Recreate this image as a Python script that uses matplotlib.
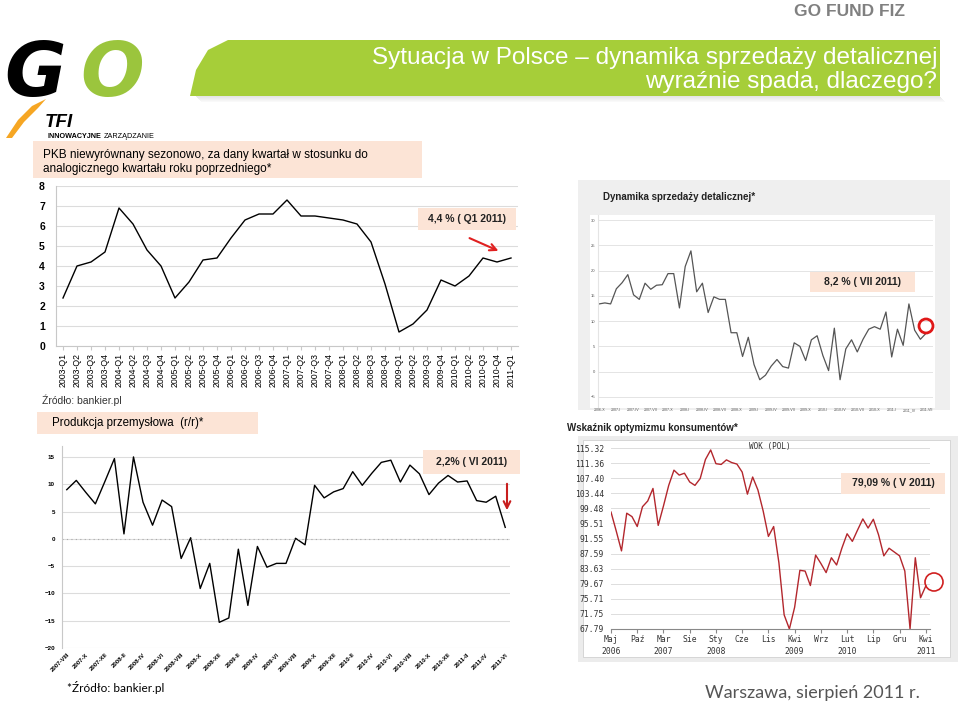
import numpy as np
import matplotlib.pyplot as plt
from matplotlib.patches import Rectangle, Polygon, Circle, FancyArrowPatch

plt.rcParams['font.family'] = ['Liberation Sans', 'DejaVu Sans']

W, H = 960, 704

# PKB r/r, quarterly
gdp_labels = [f'{y}-Q{q}' for y in range(2003, 2012) for q in range(1, 5)][:33]
gdp = [2.4, 4.0, 4.2, 4.7, 6.9, 6.1, 4.8, 4.0, 2.4, 3.2, 4.3, 4.4,
       5.4, 6.3, 6.6, 6.6, 7.3, 6.5, 6.5, 6.4, 6.3, 6.1, 5.2, 3.1,
       0.7, 1.1, 1.8, 3.3, 3.0, 3.5, 4.4, 4.2, 4.4]

# sprzedaz detaliczna, monthly 2006-X .. 2011-VII
retail_labels = ['2006-X', '2007-I', '2007-IV', '2007-VII', '2007-X', '2008-I',
                 '2008-IV', '2008-VII', '2008-X', '2009-I', '2009-IV', '2009-VII',
                 '2009-X', '2010-I', '2010-IV', '2010-VII', '2010-X', '2011-I',
                 '2011_IV', '2011-VII']
retail = [13.4, 13.6, 13.4, 16.4, 17.6, 19.2, 15.2, 14.3, 17.5, 16.3, 17.1, 17.2,
          19.4, 19.4, 12.6, 20.8, 23.9, 15.8, 17.5, 11.7, 14.8, 14.3, 14.3, 7.7,
          7.7, 3.0, 6.8, 1.4, -1.6, -0.7, 1.1, 2.4, 1.0, 0.7, 5.7, 5.0,
          2.2, 6.3, 7.1, 3.2, 0.2, 8.6, -1.6, 4.5, 6.3, 3.9, 6.4, 8.4,
          8.9, 8.4, 11.8, 2.9, 8.4, 5.2, 13.4, 8.2, 6.4, 7.6]

# produkcja przemyslowa, monthly 2007-VIII .. 2011-VI
prod_labels = ['2007-VIII', '2007-X', '2007-XII', '2008-II', '2008-IV', '2008-VI',
               '2008-VIII', '2008-X', '2008-XII', '2009-II', '2009-IV', '2009-VI',
               '2009-VIII', '2009-X', '2009-XII', '2010-II', '2010-IV', '2010-VI',
               '2010-VIII', '2010-X', '2010-XII', '2011-II', '2011-IV', '2011-VI']
prod = [9.0, 10.7, 8.5, 6.4, 10.5, 14.7, 0.9, 15.0, 6.7, 2.5, 7.1, 5.9,
        -3.6, 0.2, -9.1, -4.5, -15.3, -14.5, -1.9, -12.2, -1.4, -5.2, -4.5, -4.5,
        0.1, -1.1, 9.8, 7.5, 8.6, 9.2, 12.3, 9.8, 12.0, 14.0, 14.4, 10.4,
        13.5, 11.9, 8.1, 10.2, 11.6, 10.4, 10.6, 7.0, 6.7, 7.8, 2.1]

# WOK, monthly 2006-V .. 2011-V
wok_labels = ['Maj\n2006', 'Paź', 'Mar\n2007', 'Sie', 'Sty\n2008', 'Cze', 'Lis',
              'Kwi\n2009', 'Wrz', 'Lut\n2010', 'Lip', 'Gru', 'Kwi\n2011']
wok_yticks = [67.79, 71.75, 75.71, 79.67, 83.63, 87.59, 91.55, 95.51, 99.48,
              103.44, 107.40, 111.36, 115.32]
wok = [98.5, 93.5, 88.3, 98.2, 97.3, 94.7, 99.9, 101.4, 104.7, 95.0, 100.1, 105.5,
       109.5, 108.2, 108.7, 106.4, 105.5, 107.3, 112.3, 114.8, 111.2, 111.0, 112.2, 111.5,
       111.1, 109.0, 103.2, 107.7, 104.3, 98.8, 92.1, 94.7, 85.2, 71.5, 67.8, 73.5,
       83.2, 83.0, 79.2, 87.2, 85.0, 82.6, 86.5, 84.6, 89.0, 92.8, 90.8, 93.8,
       96.7, 94.3, 96.6, 92.5, 87.0, 89.0, 88.0, 87.0, 83.0, 67.8, 86.5, 76.0, 79.09]

peach = '#fce4d6'


def box(x0, y0, x1, y1):
    return [x0 / W, 1 - y1 / H, (x1 - x0) / W, (y1 - y0) / H]


fig = plt.figure(figsize=(9.6, 7.04), dpi=100)

bg = fig.add_axes([0, 0, 1, 1], zorder=-5)
bg.set_xlim(0, W); bg.set_ylim(H, 0); bg.axis('off')
fg = fig.add_axes([0, 0, 1, 1], zorder=5)
fg.set_xlim(0, W); fg.set_ylim(H, 0); fg.axis('off'); fg.patch.set_alpha(0)

# header
bg.text(905, 12, 'GO FUND FIZ', ha='right', va='center', fontsize=12.5,
        fontweight='bold', color='#808080')
for i in range(6):
    bg.add_patch(Rectangle((196 + i, 96 + i), 744, 1.2, color='#999999', alpha=0.25 - i * 0.04, lw=0))
banner = [(940, 40), (228, 40), (208, 50), (196, 70), (190, 96), (940, 96)]
bg.add_patch(Polygon(banner, closed=True, color='#a6ce39', lw=0))
bg.text(937, 58, 'Sytuacja w Polsce – dynamika sprzedaży detalicznej', ha='right', va='center',
        fontsize=17.5, color='white')
bg.text(937, 82, 'wyraźnie spada, dlaczego?', ha='right', va='center', fontsize=17.5, color='white')

# logo
bg.text(4, 96, 'G', fontsize=54, fontweight='heavy', style='italic', color='black',
        family='DejaVu Sans', va='baseline')
bg.text(80, 96, 'O', fontsize=54, fontweight='heavy', style='italic', color='#9bc53d',
        family='DejaVu Sans', va='baseline')
bg.add_patch(Polygon([(6, 138), (18, 120), (32, 106), (46, 99), (38, 108), (24, 122), (12, 138)],
                     closed=True, color='#f6a623', lw=0))
bg.text(45, 127, 'TFI', fontsize=13.5, fontweight='bold', style='italic', va='baseline')
bg.text(48, 136, 'INNOWACYJNE', fontsize=5.2, fontweight='bold', va='center')
bg.text(104, 136, 'ZARZĄDZANIE', fontsize=5.2, va='center')

# PKB panel
bg.add_patch(Rectangle((33, 141), 389, 37, color=peach, lw=0))
bg.text(43, 155, 'PKB niewyrównany sezonowo, za dany kwartał w stosunku do', fontsize=8.5, va='center')
bg.text(43, 169, 'analogicznego kwartału roku poprzedniego*', fontsize=8.5, va='center')
bg.text(42, 400, 'Źródło: bankier.pl', fontsize=7.5, va='center', color='#333333')

ax1 = fig.add_axes(box(56, 186, 518, 346))
ax1.plot(range(len(gdp)), gdp, color='black', lw=1)
ax1.set_xlim(-0.5, len(gdp) - 0.5)
ax1.set_ylim(0, 8)
ax1.set_yticks(range(9))
ax1.set_xticks(range(len(gdp)))
ax1.set_xticklabels(gdp_labels, rotation=90, fontsize=6.3)
ax1.grid(axis='y', color='#dcdcdc', lw=0.8)
ax1.set_axisbelow(True)
for s in ['top', 'right']:
    ax1.spines[s].set_visible(False)
for s in ['left', 'bottom']:
    ax1.spines[s].set_color('#c8c8c8')
ax1.tick_params(axis='y', length=0, labelsize=7.5, pad=8)
ax1.tick_params(axis='x', length=3, color='#c8c8c8', pad=2)
for t in ax1.get_yticklabels():
    t.set_fontweight('bold')

# retail panel
bg.add_patch(Rectangle((578, 180), 372, 230, color='#efefef', lw=0))
bg.add_patch(Rectangle((590, 215), 345, 193, color='white', lw=0))
bg.text(603, 197, 'Dynamika sprzedaży detalicznej*', fontsize=7, fontweight='bold', va='center',
        color='#222222')
ax2 = fig.add_axes(box(598, 215, 933, 407))
ax2.patch.set_alpha(0)
ax2.plot(range(len(retail)), retail, color='#555555', lw=0.9)
ax2.set_xlim(-0.2, 58.2)
ax2.set_ylim(-7, 31)
ax2.set_yticks(range(-5, 31, 5))
ax2.set_xticks(range(0, len(retail), 3))
ax2.set_xticklabels(retail_labels, fontsize=2.6, color='#555555')
ax2.grid(axis='y', color='#e4e4e4', lw=0.7)
ax2.set_axisbelow(True)
for s in ['top', 'right', 'bottom']:
    ax2.spines[s].set_visible(False)
ax2.spines['left'].set_color('#e4e4e4')
ax2.tick_params(axis='y', length=0, labelsize=3, pad=2, labelcolor='#555555')
ax2.tick_params(axis='x', length=0, pad=1)

# production panel
bg.add_patch(Rectangle((37, 412), 221, 22, color=peach, lw=0))
bg.text(52, 423, 'Produkcja przemysłowa  (r/r)*', fontsize=8.3, va='center')
ax3 = fig.add_axes(box(62, 446, 510, 648))
ax3.plot(range(len(prod)), prod, color='black', lw=1)
ax3.axhline(0, color='#aaaaaa', lw=0.8, ls=(0, (1, 3)))
ax3.set_xlim(-0.5, len(prod) - 0.5)
ax3.set_ylim(-20, 17)
ax3.set_yticks(range(-20, 16, 5))
ax3.set_xticks(range(0, len(prod), 2))
ax3.set_xticklabels(prod_labels, rotation=45, ha='right', rotation_mode='anchor', fontsize=4.3)
for t in ax3.get_xticklabels() + ax3.get_yticklabels():
    t.set_fontweight('bold')
ax3.grid(axis='y', color='#dcdcdc', lw=0.8)
ax3.set_axisbelow(True)
for s in ['top', 'right', 'bottom']:
    ax3.spines[s].set_visible(False)
ax3.spines['left'].set_color('#c8c8c8')
ax3.tick_params(axis='y', length=0, labelsize=4.5, pad=5)
ax3.tick_params(axis='x', length=0, pad=3)

# WOK panel
bg.add_patch(Rectangle((578, 436), 380, 226, color='#ececec', lw=0))
bg.add_patch(Rectangle((583, 440), 367, 217, facecolor='white', edgecolor='#d0d0d0', lw=0.6))
bg.text(567, 428, 'Wskaźnik optymizmu konsumentów*', fontsize=7, fontweight='bold', va='center',
        color='#222222')
ax4 = fig.add_axes(box(611, 448, 930, 629))
ax4.patch.set_alpha(0)
ax4.plot(range(len(wok)), wok, color='#b3272d', lw=1)
ax4.set_xlim(0, 60.8)
ax4.set_ylim(wok_yticks[0], wok_yticks[-1])
ax4.set_yticks(wok_yticks)
ax4.set_yticklabels([f'{v:.2f}' for v in wok_yticks], fontsize=5.8, family='DejaVu Sans Mono',
                    color='#333333')
ax4.set_xticks(range(0, 61, 5))
ax4.set_xticklabels(wok_labels, fontsize=5.8, family='DejaVu Sans Mono', color='#333333',
                    linespacing=1.5)
ax4.grid(axis='y', color='#dddddd', lw=0.7)
ax4.set_axisbelow(True)
for s in ['top', 'right', 'left']:
    ax4.spines[s].set_visible(False)
ax4.spines['bottom'].set_color('#888888')
ax4.tick_params(axis='y', length=0, pad=5)
ax4.tick_params(axis='x', length=3, color='#888888', pad=1)
fg.text(770, 447, 'WOK (POL)', fontsize=5.5, family='DejaVu Sans Mono', ha='center', va='center',
        color='#333333')

# annotations
notes = [((418, 208, 98, 22), '4,4 % ( Q1 2011)'),
         ((810, 272, 105, 20), '8,2 % ( VII 2011)'),
         ((423, 450, 97, 24), '2,2% ( VI 2011)'),
         ((841, 473, 104, 21), '79,09 % ( V 2011)')]
for (x, y, w, h), txt in notes:
    fg.add_patch(Rectangle((x, y), w, h, color=peach, lw=0))
    fg.text(x + w / 2, y + h / 2, txt, ha='center', va='center', fontsize=7.5, fontweight='bold',
            color='#222222')
fg.add_patch(FancyArrowPatch((467, 237), (501, 252), arrowstyle='->', color='#e02020', lw=1.5,
                             mutation_scale=12))
fg.add_patch(FancyArrowPatch((507, 481), (507, 513), arrowstyle='->', color='#c81e1e', lw=1.5,
                             mutation_scale=12))
fg.add_patch(Circle((926, 326), 7, fill=False, edgecolor='#e01818', lw=2))
fg.add_patch(Circle((934, 582), 9, fill=False, edgecolor='#d02020', lw=1.2))

# footer
bg.text(67, 688, '*Źródło: bankier.pl', fontsize=8.5, va='center', family=['Lato', 'DejaVu Sans'])
bg.text(920, 693, 'Warszawa, sierpień 2011 r.', fontsize=13, va='center', ha='right',
        color='#555555', family=['Lato', 'DejaVu Sans'])

fig.savefig('out.png', dpi=100)
